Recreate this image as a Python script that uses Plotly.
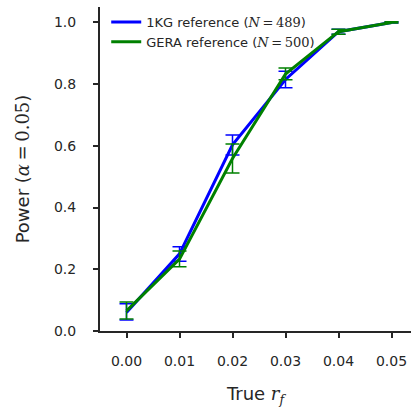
import plotly.graph_objects as go

true_rf = [0.00, 0.01, 0.02, 0.03, 0.04, 0.05]
kg_power = [0.060, 0.250, 0.603, 0.815, 0.970, 1.000]
kg_err_plus = [0.028, 0.023, 0.032, 0.027, 0.008, 0.002]
kg_err_minus = [0.024, 0.024, 0.033, 0.027, 0.008, 0.002]
gera_power = [0.065, 0.233, 0.559, 0.833, 0.970, 1.000]
gera_err_plus = [0.029, 0.026, 0.047, 0.019, 0.008, 0.002]
gera_err_minus = [0.026, 0.025, 0.047, 0.019, 0.008, 0.002]
x_ticks = [0.00, 0.01, 0.02, 0.03, 0.04, 0.05]
y_ticks = [0.0, 0.2, 0.4, 0.6, 0.8, 1.0]

SERIF = "font-family:'DejaVu Serif';font-style:italic"
SERIF_UP = "font-family:'DejaVu Serif'"
TS = "\u2009"

fig = go.Figure()
fig.add_trace(go.Scatter(
    x=true_rf, y=kg_power, mode="lines",
    name=f"1KG reference (<span style=\"{SERIF}\">N</span><span style=\"{SERIF_UP}\">{TS}={TS}489</span>)",
    line=dict(color="#0000ff", width=3),
    error_y=dict(type="data", symmetric=False, array=kg_err_plus,
                 arrayminus=kg_err_minus, color="#0000ff", thickness=1.5, width=7),
))
fig.add_trace(go.Scatter(
    x=true_rf, y=gera_power, mode="lines",
    name=f"GERA reference (<span style=\"{SERIF}\">N</span><span style=\"{SERIF_UP}\">{TS}={TS}500</span>)",
    line=dict(color="#008000", width=3),
    error_y=dict(type="data", symmetric=False, array=gera_err_plus,
                 arrayminus=gera_err_minus, color="#008000", thickness=1.5, width=7),
))

axis_common = dict(
    showline=True, linecolor="#262626", linewidth=2,
    ticks="outside", ticklen=5, tickwidth=1.5, tickcolor="#262626",
    showgrid=False, zeroline=False,
    tickfont=dict(family="DejaVu Sans", size=14, color="#262626"),
)

fig.update_layout(
    width=411, height=413,
    margin=dict(l=100, r=0, t=7, b=82),
    paper_bgcolor="white", plot_bgcolor="white",
    showlegend=True,
    legend=dict(x=0.02, y=1.0, xanchor="left", yanchor="top",
                bgcolor="rgba(0,0,0,0)",
                font=dict(family="DejaVu Sans", size=13, color="#262626"),
                tracegroupgap=0, itemwidth=30),
    xaxis=dict(range=[-0.005, 0.05368], tickvals=x_ticks,
               ticktext=[f"{v:.2f}" for v in x_ticks],
               ticklabelstandoff=11,
               title=dict(text=f"True <span style=\"{SERIF}\">r<sub>f</sub></span>",
                          font=dict(family="DejaVu Sans", size=18, color="#262626"),
                          standoff=20),
               **axis_common),
    yaxis=dict(range=[0, 1.05], tickvals=y_ticks,
               ticktext=[f"{v:.1f}" for v in y_ticks],
               ticklabelstandoff=14,
               title=dict(text=f"Power (<span style=\"{SERIF}\">α</span><span style=\"{SERIF_UP}\">{TS}={TS}0.05</span>)",
                          font=dict(family="DejaVu Sans", size=18, color="#262626"),
                          standoff=20),
               **axis_common),
)

fig.write_html("out.html")
